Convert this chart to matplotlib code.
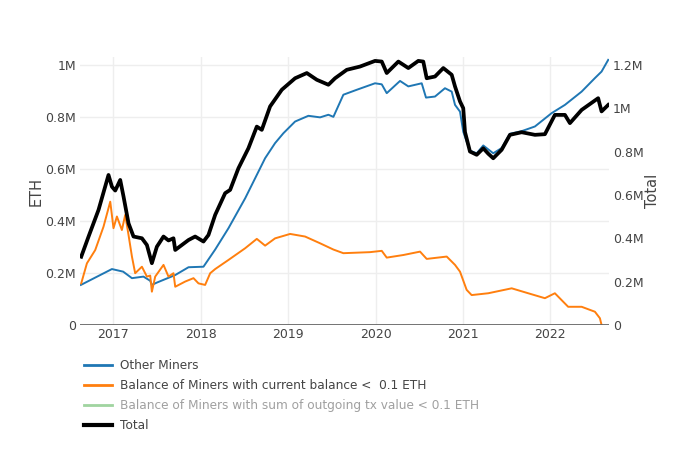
"""Saldo de mineros en ETH: otros mineros, saldo < 0.1 ETH y total."""

import matplotlib

matplotlib.use("Agg")
from matplotlib import pyplot as plt  # noqa: E402
from matplotlib.lines import Line2D  # noqa: E402
from matplotlib.ticker import FuncFormatter, MultipleLocator  # noqa: E402

# x values are decimal years, y values in millions of ETH
OTHER_X = [
    2016.63, 2016.985, 2017.114, 2017.214, 2017.346, 2017.423, 2017.442,
    2017.499, 2017.709, 2017.861, 2018.032, 2018.166, 2018.318, 2018.509,
    2018.623, 2018.737, 2018.851, 2018.946, 2019.08, 2019.232, 2019.366,
    2019.461, 2019.518, 2019.632, 2019.785, 2019.994, 2020.071, 2020.128,
    2020.28, 2020.375, 2020.528, 2020.577, 2020.68, 2020.794, 2020.871,
    2020.909, 2020.966, 2021.003, 2021.042, 2021.08, 2021.157, 2021.232,
    2021.289, 2021.346, 2021.442, 2021.537, 2021.671, 2021.823, 2022.013,
    2022.166, 2022.357, 2022.509, 2022.585, 2022.661,
]
OTHER_Y = [
    0.154, 0.215, 0.205, 0.18, 0.186, 0.17, 0.154,
    0.163, 0.192, 0.222, 0.224, 0.29, 0.372, 0.487,
    0.564, 0.641, 0.699, 0.737, 0.782, 0.804, 0.798,
    0.808, 0.8, 0.885, 0.904, 0.929, 0.925, 0.891,
    0.938, 0.917, 0.929, 0.874, 0.878, 0.91, 0.897,
    0.846, 0.82, 0.743, 0.705, 0.67, 0.66, 0.69,
    0.675, 0.66, 0.68, 0.735, 0.745, 0.763, 0.814,
    0.846, 0.897, 0.949, 0.974, 1.019,
]

LOW_BALANCE_X = [
    2016.634, 2016.699, 2016.794, 2016.889, 2016.966, 2017.003, 2017.042,
    2017.099, 2017.137, 2017.175, 2017.214, 2017.251, 2017.328, 2017.385,
    2017.423, 2017.442, 2017.48, 2017.575, 2017.632, 2017.689, 2017.709,
    2017.823, 2017.918, 2017.975, 2018.051, 2018.109, 2018.166, 2018.318,
    2018.509, 2018.642, 2018.737, 2018.851, 2019.023, 2019.194, 2019.366,
    2019.518, 2019.632, 2019.937, 2020.071, 2020.128, 2020.318, 2020.509,
    2020.585, 2020.814, 2020.909, 2020.966, 2021.042, 2021.099, 2021.289,
    2021.557, 2021.746, 2021.937, 2022.051, 2022.203, 2022.357, 2022.509,
    2022.566, 2022.585,
]
LOW_BALANCE_Y = [
    0.16, 0.237, 0.288, 0.378, 0.474, 0.372, 0.417,
    0.365, 0.423, 0.346, 0.263, 0.199, 0.224, 0.186,
    0.19, 0.128, 0.186, 0.231, 0.186, 0.199, 0.147,
    0.167, 0.18, 0.16, 0.154, 0.199, 0.215, 0.25,
    0.295, 0.331, 0.305, 0.333, 0.35, 0.34, 0.314,
    0.29, 0.276, 0.28, 0.285, 0.259, 0.269, 0.282,
    0.254, 0.263, 0.231, 0.205, 0.135, 0.115, 0.122,
    0.141, 0.122, 0.103, 0.122, 0.07, 0.07, 0.051,
    0.026, 0.0,
]

TOTAL_X = [
    2016.634, 2016.718, 2016.832, 2016.946, 2016.985, 2017.023, 2017.08,
    2017.118, 2017.175, 2017.232, 2017.328, 2017.385, 2017.442, 2017.499,
    2017.575, 2017.632, 2017.689, 2017.709, 2017.861, 2017.937, 2018.032,
    2018.089, 2018.166, 2018.28, 2018.337, 2018.432, 2018.546, 2018.642,
    2018.699, 2018.794, 2018.928, 2019.08, 2019.214, 2019.328, 2019.461,
    2019.537, 2019.671, 2019.823, 2019.994, 2020.071, 2020.128, 2020.261,
    2020.375, 2020.489, 2020.546, 2020.585, 2020.68, 2020.775, 2020.871,
    2020.909, 2020.966, 2021.003, 2021.023, 2021.08, 2021.157, 2021.232,
    2021.289, 2021.346, 2021.442, 2021.537, 2021.671, 2021.823, 2021.937,
    2022.051, 2022.166, 2022.223, 2022.357, 2022.546, 2022.585, 2022.661,
]
TOTAL_Y = [
    0.315, 0.408, 0.531, 0.692, 0.638, 0.62, 0.669,
    0.592, 0.469, 0.408, 0.4, 0.369, 0.285, 0.361,
    0.408, 0.39, 0.4, 0.346, 0.392, 0.408, 0.385,
    0.415, 0.508, 0.608, 0.623, 0.723, 0.815, 0.915,
    0.9, 1.008, 1.085, 1.138, 1.162, 1.131, 1.108,
    1.138, 1.177, 1.192, 1.218, 1.215, 1.162, 1.215,
    1.185, 1.218, 1.215, 1.138, 1.146, 1.185, 1.154,
    1.1, 1.031, 1.0, 0.89, 0.8, 0.785, 0.815,
    0.79, 0.769, 0.808, 0.877, 0.889, 0.877, 0.88,
    0.969, 0.969, 0.931, 0.992, 1.046, 0.985, 1.015,
]

YEARS = [2017, 2018, 2019, 2020, 2021, 2022]
LABELS = (
    "Other Miners",
    "Balance of Miners with current balance <  0.1 ETH",
    "Balance of Miners with sum of outgoing tx value < 0.1 ETH",
    "Total",
)

TEXT = "#444444"
GRID = "#eeeeee"


def millions(value, _pos):
    if abs(value) < 1e-9:
        return "0"
    return f"{value:g}M"


fig = plt.figure(figsize=(7, 4.5), dpi=100)
ax = fig.add_axes((80 / 700, 125 / 450, 529 / 700, 268 / 450))
ax2 = ax.twinx()

ax.plot(OTHER_X, OTHER_Y, color="#1f77b4", linewidth=1.4)
ax.plot(LOW_BALANCE_X, LOW_BALANCE_Y, color="#ff7f0e", linewidth=1.4)
ax2.plot(TOTAL_X, TOTAL_Y, color="black", linewidth=2.7)

ax.set_xlim(2016.62, 2022.67)
ax.set_ylim(0, 1.03)
ax2.set_ylim(0, 1.236)
ax.set_xticks(YEARS, labels=[str(y) for y in YEARS])
ax.yaxis.set_major_locator(MultipleLocator(0.2))
ax2.yaxis.set_major_locator(MultipleLocator(0.2))
ax.yaxis.set_major_formatter(FuncFormatter(millions))
ax2.yaxis.set_major_formatter(FuncFormatter(millions))

ax.grid(True, color=GRID, linewidth=1)
ax.set_axisbelow(True)
for axis in (ax, ax2):
    for spine in axis.spines.values():
        spine.set_visible(False)
    axis.tick_params(length=0, labelsize=9, colors=TEXT)
ax.tick_params(axis="x", pad=2)
ax.tick_params(axis="y", pad=3)
ax2.tick_params(axis="y", pad=3)
ax.axhline(0, color="#666666", linewidth=2, zorder=5)

ax.set_ylabel("ETH", fontsize=10.5, color=TEXT, labelpad=1)
ax2.set_ylabel("Total", fontsize=10.5, color=TEXT, labelpad=1)

handles = [
    Line2D([], [], color="#1f77b4", linewidth=2),
    Line2D([], [], color="#ff7f0e", linewidth=2),
    Line2D([], [], color="#2ca02c", alpha=0.45, linewidth=2),
    Line2D([], [], color="black", linewidth=3),
]
legend = fig.legend(
    handles,
    LABELS,
    loc="upper left",
    bbox_to_anchor=(84 / 700, 1 - 359 / 450),
    frameon=False,
    fontsize=8.7,
    handlelength=2.35,
    handletextpad=0.6,
    labelspacing=0.58,
    borderpad=0,
    borderaxespad=0,
)
for i, text in enumerate(legend.get_texts()):
    text.set_color("#a0a0a0" if i == 2 else TEXT)

fig.savefig("out.png", dpi=100, facecolor="white")
